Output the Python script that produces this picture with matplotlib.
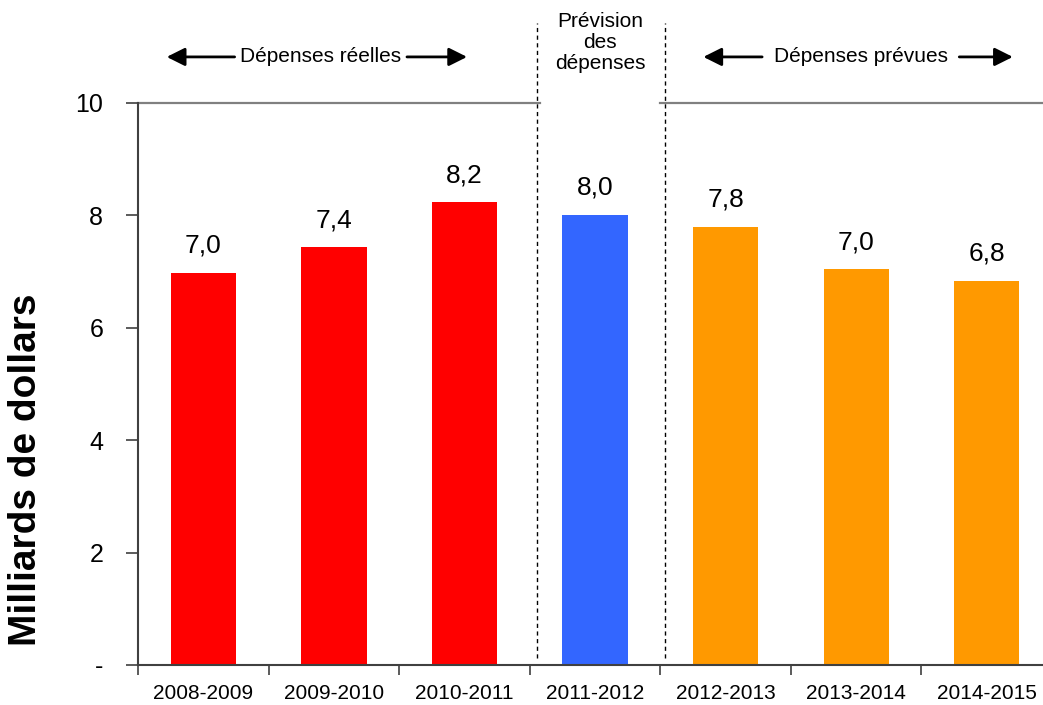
import matplotlib
matplotlib.use("Agg")
import matplotlib.pyplot as plt

categories = ["2008-2009", "2009-2010", "2010-2011", "2011-2012", "2012-2013", "2013-2014", "2014-2015"]
values = [6.98, 7.43, 8.23, 8.01, 7.79, 7.04, 6.84]
colors = ["#FF0000", "#FF0000", "#FF0000", "#3366FF", "#FF9900", "#FF9900", "#FF9900"]
yticks = [0, 2, 4, 6, 8, 10]
ytick_labels = ["-", "2", "4", "6", "8", "10"]
ylabel = "Milliards de dollars"
section_actual = "Dépenses réelles"
section_forecast = "Prévision\ndes\ndépenses"
section_planned = "Dépenses prévues"

plt.rcParams['font.family'] = ['Liberation Sans', 'DejaVu Sans']

fig = plt.figure(figsize=(10.43, 7.05), dpi=100)
ax = fig.add_axes([138/1043, 40/705, 914/1043, 562/705])

x = list(range(len(categories)))
ax.bar(x, values, width=0.5, color=colors, zorder=2)
for xi, v in zip(x, values):
    ax.annotate(f"{v:.1f}".replace(".", ","), (xi, v), xytext=(0, 11), textcoords="offset points",
                ha="center", va="bottom", fontsize=19, color="black")

ax.set_xlim(-0.5, len(categories) - 0.5)
ax.set_ylim(0, 10)
ax.set_yticks(yticks)
ax.set_yticklabels(ytick_labels, fontsize=18)
ax.tick_params(axis="y", length=9, width=1.2, color="#404040", pad=16, direction="out")

ax.set_xticks(x)
ax.set_xticklabels(categories, fontsize=15)
ax.set_xticks([i - 0.5 for i in range(len(categories) + 1)], minor=True)
ax.tick_params(axis="x", which="major", length=0, pad=14)
ax.tick_params(axis="x", which="minor", length=7, width=1.2, color="#404040", direction="out")

for s in ["top", "right"]:
    ax.spines[s].set_visible(False)
for s in ["left", "bottom"]:
    ax.spines[s].set_color("#404040")
    ax.spines[s].set_linewidth(1.5)

# top gray border with gap
ax.plot([-0.5, 2.58], [10, 10], color="#808080", lw=1.6, clip_on=False, zorder=1)
ax.plot([3.5, 6.5], [10, 10], color="#808080", lw=1.6, clip_on=False, zorder=1)

# dashed separators
for xd in [2.553, 3.533]:
    ax.plot([xd, xd], [0.12, 11.42], color="black", lw=1.0, ls=(0, (3, 2.5)), clip_on=False, zorder=3)

ax.set_ylabel(ylabel, fontsize=28, fontweight="bold")
ax.yaxis.set_label_coords(-0.103, 0.347)

# section labels
ty = 10.82
ax.text(0.90, ty, section_actual, ha="center", va="center", fontsize=15, clip_on=False)
ax.text(5.04, ty, section_planned, ha="center", va="center", fontsize=15, clip_on=False)
ax.text(3.04, 11.08, section_forecast, ha="center", va="center", fontsize=15,
        linespacing=1.15, clip_on=False)

arrow_kw = dict(arrowstyle="-|>,head_length=1.1,head_width=0.55", color="black", lw=2.0,
                shrinkA=0, shrinkB=0)
for start, tip in [(0.24, -0.28), (1.56, 2.02), (4.28, 3.83), (5.79, 6.20)]:
    ax.annotate("", xy=(tip, ty), xytext=(start, ty), arrowprops=arrow_kw, annotation_clip=False)

fig.savefig("out.png", dpi=100)
